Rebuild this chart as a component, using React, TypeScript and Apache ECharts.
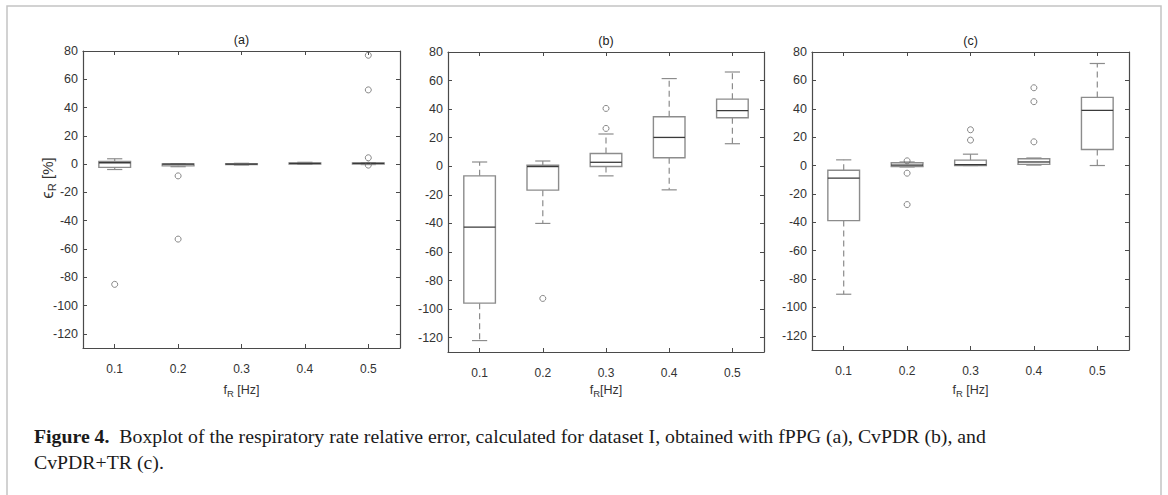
import React, { useEffect, useRef } from 'react';
import * as echarts from 'echarts';

const categories = ['0.1', '0.2', '0.3', '0.4', '0.5'];
const yTicks = [-120, -100, -80, -60, -40, -20, 0, 20, 40, 60, 80];

// each row: [min whisker, q1, median, q3, max whisker]
const boxFPPG = [
  [-3.8, -2.3, 1.0, 1.9, 3.8],
  [-1.8, -1.2, 0.0, 0.2, 0.4],
  [-0.6, -0.3, 0.0, 0.3, 0.6],
  [-0.2, 0.1, 0.5, 0.9, 1.3],
  [-0.3, 0.1, 0.5, 0.8, 1.1],
];
const outFPPG = [[0, -85], [1, -8.3], [1, -53], [4, 77], [4, 52.5], [4, 4.5], [4, -0.7]];

const boxCvPDR = [
  [-122, -95.8, -42.6, -6.7, 3],
  [-40, -16.7, -0.2, 0.7, 3.7],
  [-6.7, -0.2, 2.8, 9, 22.6],
  [-16.5, 6, 20.2, 34.7, 61.4],
  [15.8, 34, 38.9, 47, 66],
];
const outCvPDR = [[1, -92.5], [2, 40.5], [2, 26.5]];

const boxCvPDRTR = [
  [-90.7, -38.8, -8.9, -3.3, 4],
  [-1.0, -0.7, 0.3, 2.0, 2.5],
  [0, 0, 0.7, 3.8, 8],
  [0.3, 0.8, 2.5, 4.8, 5.3],
  [0, 11.3, 38.8, 48, 71.9],
];
const outCvPDRTR = [[1, 3.3], [1, -5.4], [1, -27.5], [2, 25.2], [2, 17.9], [3, 54.8], [3, 45], [3, 16.7]];

const panelTitles = ['(a)', '(b)', '(c)'];
const xNames = ['{f|f}{s|R} {f|[Hz]}', '{f|f}{s|R}{f|[Hz]}', '{f|f}{s|R} {f|[Hz]}'];

const FONT = '"Liberation Sans", Arial, Helvetica, sans-serif';
const SERIF = '"Liberation Serif", "Times New Roman", serif';
const AXIS_COLOR = '#4a4a4a';
const TEXT_COLOR = '#333333';
const BOX_COLOR = '#8c8c8c';
const MED_COLOR = '#3a3a3a';

const grids = [
  { left: 83, top: 51, width: 317, height: 297 },
  { left: 448, top: 52, width: 316, height: 300 },
  { left: 812, top: 52, width: 317, height: 298 },
];

function renderBox(params: any, api: any) {
  const idx = api.value(0);
  const band = api.size([1, 0])[0];
  const bw = band * 0.5;
  const cw = band * 0.24;
  const pMin = api.coord([idx, api.value(1)]);
  const pQ1 = api.coord([idx, api.value(2)]);
  const pMed = api.coord([idx, api.value(3)]);
  const pQ3 = api.coord([idx, api.value(4)]);
  const pMax = api.coord([idx, api.value(5)]);
  const x = pMin[0];
  const dash = { stroke: BOX_COLOR, lineWidth: 1.2, lineDash: [6, 4], fill: null };
  const solid = { stroke: BOX_COLOR, lineWidth: 1.2, fill: null };
  return {
    type: 'group',
    children: [
      { type: 'line', shape: { x1: x, y1: pQ3[1], x2: x, y2: pMax[1] }, style: dash },
      { type: 'line', shape: { x1: x, y1: pQ1[1], x2: x, y2: pMin[1] }, style: dash },
      { type: 'line', shape: { x1: x - cw / 2, y1: pMax[1], x2: x + cw / 2, y2: pMax[1] }, style: solid },
      { type: 'line', shape: { x1: x - cw / 2, y1: pMin[1], x2: x + cw / 2, y2: pMin[1] }, style: solid },
      {
        type: 'rect',
        shape: { x: x - bw / 2, y: pQ3[1], width: bw, height: Math.max(pQ1[1] - pQ3[1], 0.5) },
        style: { stroke: BOX_COLOR, lineWidth: 1.4, fill: 'rgba(255,255,255,0)' },
      },
      {
        type: 'line',
        shape: { x1: x - bw / 2, y1: pMed[1], x2: x + bw / 2, y2: pMed[1] },
        style: { stroke: MED_COLOR, lineWidth: 1.3 },
      },
    ],
  };
}

export default function App() {
  const ref = useRef<HTMLDivElement>(null);
  useEffect(() => {
    document.body.style.margin = '0';
    const chart = echarts.init(ref.current!, null, { renderer: 'svg' });
    const boxes = [boxFPPG, boxCvPDR, boxCvPDRTR];
    const outs = [outFPPG, outCvPDR, outCvPDRTR];

    const xAxis: any[] = [];
    const yAxis: any[] = [];
    const series: any[] = [];
    const graphic: any[] = [];

    grids.forEach((g, i) => {
      const tickStyle = { show: true, inside: true, length: 4, lineStyle: { color: AXIS_COLOR, width: 1 } };
      const lineStyle = { show: true, onZero: false, lineStyle: { color: AXIS_COLOR, width: 1.2 } };
      xAxis.push({
        type: 'category', gridIndex: i, data: categories, boundaryGap: true, position: 'bottom',
        axisLine: lineStyle,
        axisTick: { ...tickStyle, alignWithLabel: true },
        axisLabel: { color: TEXT_COLOR, fontSize: 12, fontFamily: FONT, margin: 15 },
        splitLine: { show: false },
      });
      xAxis.push({
        type: 'category', gridIndex: i, data: categories, boundaryGap: true, position: 'top',
        axisLine: lineStyle,
        axisTick: { ...tickStyle, alignWithLabel: true },
        axisLabel: { show: false },
        splitLine: { show: false },
      });
      yAxis.push({
        type: 'value', gridIndex: i, min: -130, max: 80, position: 'left',
        axisLine: lineStyle,
        axisTick: { ...tickStyle, customValues: yTicks },
        axisLabel: { color: TEXT_COLOR, fontSize: 12.5, fontFamily: FONT, margin: 5, customValues: yTicks },
        splitLine: { show: false },
      });
      yAxis.push({
        type: 'value', gridIndex: i, min: -130, max: 80, position: 'right',
        axisLine: lineStyle,
        axisTick: { ...tickStyle, customValues: yTicks },
        axisLabel: { show: false },
        splitLine: { show: false },
      });
      series.push({
        type: 'custom',
        xAxisIndex: i * 2,
        yAxisIndex: i * 2,
        renderItem: renderBox,
        encode: { x: 0, y: [1, 2, 3, 4, 5] },
        data: boxes[i].map((b, k) => [k, ...b]),
        z: 2,
      });
      series.push({
        type: 'scatter',
        xAxisIndex: i * 2,
        yAxisIndex: i * 2,
        symbol: 'circle',
        symbolSize: 6,
        itemStyle: { color: 'rgba(255,255,255,0)', borderColor: '#6a6a6a', borderWidth: 1 },
        data: outs[i],
        z: 3,
      });
      const cx = g.left + g.width / 2;
      graphic.push({
        type: 'text', x: cx, y: g.top - 11,
        style: { text: panelTitles[i], fill: '#222', font: `12.5px ${FONT}`, align: 'center', verticalAlign: 'middle' },
      });
      graphic.push({
        type: 'text', x: cx, y: 390,
        style: {
          text: xNames[i], fill: TEXT_COLOR, align: 'center', verticalAlign: 'middle',
          rich: {
            f: { fontSize: 12.5, fontFamily: FONT, lineHeight: 16, fill: TEXT_COLOR },
            s: { fontSize: 9.5, fontFamily: FONT, lineHeight: 8, verticalAlign: 'bottom', fill: TEXT_COLOR },
          },
        },
      });
    });

    graphic.push({
      type: 'text', x: 47, y: 178, rotation: Math.PI / 2,
      style: {
        text: '{e|\u03F5}{s|R}{f| [%]}', fill: TEXT_COLOR, align: 'center', verticalAlign: 'middle',
        rich: {
          e: { fontSize: 17, fontFamily: FONT, lineHeight: 20, fill: TEXT_COLOR },
          f: { fontSize: 15, fontFamily: FONT, lineHeight: 20, fill: TEXT_COLOR },
          s: { fontSize: 11, fontFamily: FONT, lineHeight: 10, verticalAlign: 'bottom', fill: TEXT_COLOR },
        },
      },
    });

    graphic.push({
      type: 'rect', shape: { x: 7, y: 6, width: 1154, height: 520 },
      style: { fill: 'none', stroke: '#c4c4c4', lineWidth: 1.5 }, silent: true, z: -1,
    });

    graphic.push({
      type: 'text', x: 34, y: 436,
      style: {
        text: '{b|Figure 4.}{n|  Boxplot of the respiratory rate relative error, calculated for dataset I, obtained with fPPG (a), CvPDR (b), and}',
        verticalAlign: 'middle',
        rich: {
          b: { fontSize: 19.8, fontFamily: SERIF, fontWeight: 'bold', fill: '#1a1a1a' },
          n: { fontSize: 19.8, fontFamily: SERIF, fill: '#1a1a1a' },
        },
      },
    });
    graphic.push({
      type: 'text', x: 34, y: 462,
      style: { text: 'CvPDR+TR (c).', verticalAlign: 'middle', font: `19.8px ${SERIF}`, fill: '#1a1a1a' },
    });

    chart.setOption({
      animation: false,
      backgroundColor: '#ffffff',
      grid: grids.map((g) => ({ ...g, containLabel: false })),
      xAxis,
      yAxis,
      series,
      graphic,
    });
    return () => chart.dispose();
  }, []);
  return <div ref={ref} style={{ position: 'absolute', left: 0, top: 0, width: 1168, height: 495 }} />;
}
